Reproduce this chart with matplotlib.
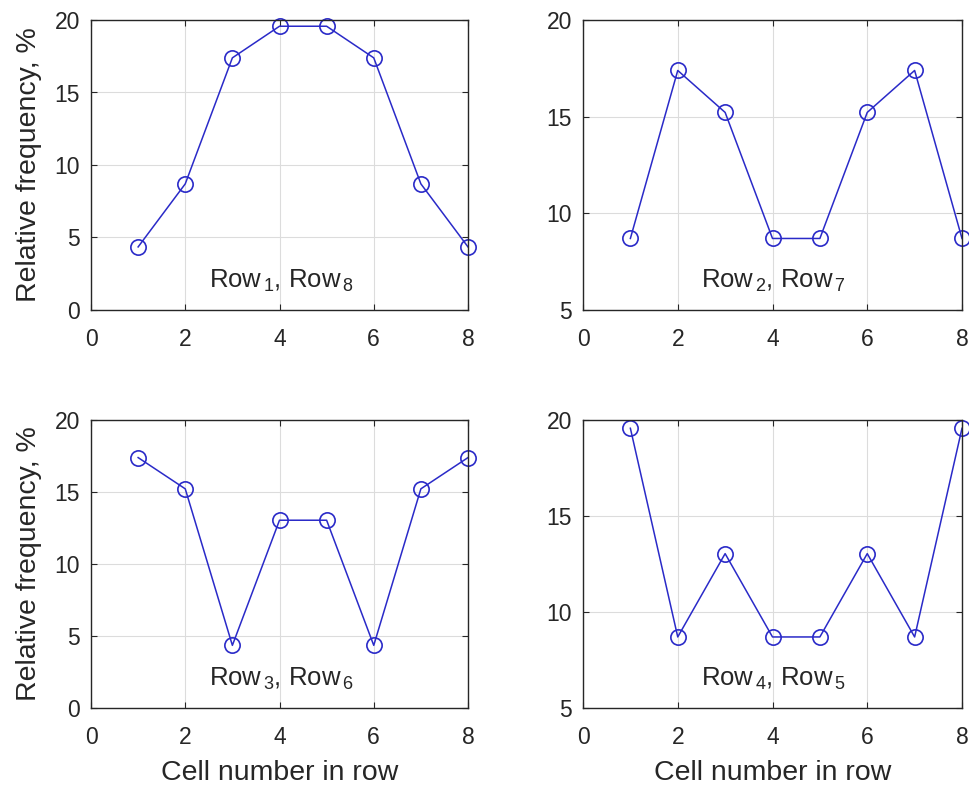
import numpy as np
import matplotlib
matplotlib.use("Agg")
import matplotlib.pyplot as plt

plt.rcParams['font.family'] = ['Liberation Sans', 'DejaVu Sans']
plt.rcParams['mathtext.fontset'] = 'custom'
plt.rcParams['mathtext.rm'] = 'Liberation Sans'
plt.rcParams['mathtext.it'] = 'Liberation Sans'

cells = [1, 2, 3, 4, 5, 6, 7, 8]
row18 = [4.35, 8.70, 17.39, 19.57, 19.57, 17.39, 8.70, 4.35]
row27 = [8.70, 17.39, 15.22, 8.70, 8.70, 15.22, 17.39, 8.70]
row36 = [17.39, 15.22, 4.35, 13.04, 13.04, 4.35, 15.22, 17.39]
row45 = [19.57, 8.70, 13.04, 8.70, 8.70, 13.04, 8.70, 19.57]
labels = [r'Row$_{\,1}$, Row$_{\,8}$', r'Row$_{\,2}$, Row$_{\,7}$',
          r'Row$_{\,3}$, Row$_{\,6}$', r'Row$_{\,4}$, Row$_{\,5}$']
ylims = [(0, 20), (5, 20), (0, 20), (5, 20)]

fig = plt.figure(figsize=(9.69, 7.89), dpi=100)
W, H = 969, 789
boxes = [(91, 20, 468, 310), (583, 20, 962, 310),
         (91, 420, 468, 708), (583, 420, 962, 708)]

blue = '#2a2ac8'
txt = '#262626'
for i, (data, lab, yl, b) in enumerate(zip([row18, row27, row36, row45], labels, ylims, boxes)):
    x0, y0, x1, y1 = b
    ax = fig.add_axes([x0 / W, 1 - y1 / H, (x1 - x0) / W, (y1 - y0) / H])
    ax.plot(cells, data, '-o', color=blue, lw=1.1, ms=11, mfc='none', mew=1.2, clip_on=False)
    ax.set_xlim(0, 8)
    ax.set_ylim(*yl)
    ax.set_xticks([0, 2, 4, 6, 8])
    ax.set_yticks(np.arange(yl[0], 21, 5))
    ax.grid(True, color='#dcdcdc', lw=0.8)
    ax.set_axisbelow(True)
    ax.tick_params(direction='in', top=True, right=True, labelsize=16.5, colors=txt,
                   length=4, width=0.8)
    ax.tick_params(axis='x', pad=13)
    ax.tick_params(axis='y', pad=8)
    for s in ax.spines.values():
        s.set_color(txt)
        s.set_linewidth(1.0)
    ax.text(0.3125, 0.10, lab, transform=ax.transAxes, fontsize=18.5, color=txt,
            ha='left', va='center')
    if i % 2 == 0:
        ax.set_ylabel('Relative frequency, %', fontsize=20.5, color=txt, labelpad=9)
    if i >= 2:
        ax.set_xlabel('Cell number in row', fontsize=20.5, color=txt, labelpad=8)

fig.savefig('out.png', dpi=100)
